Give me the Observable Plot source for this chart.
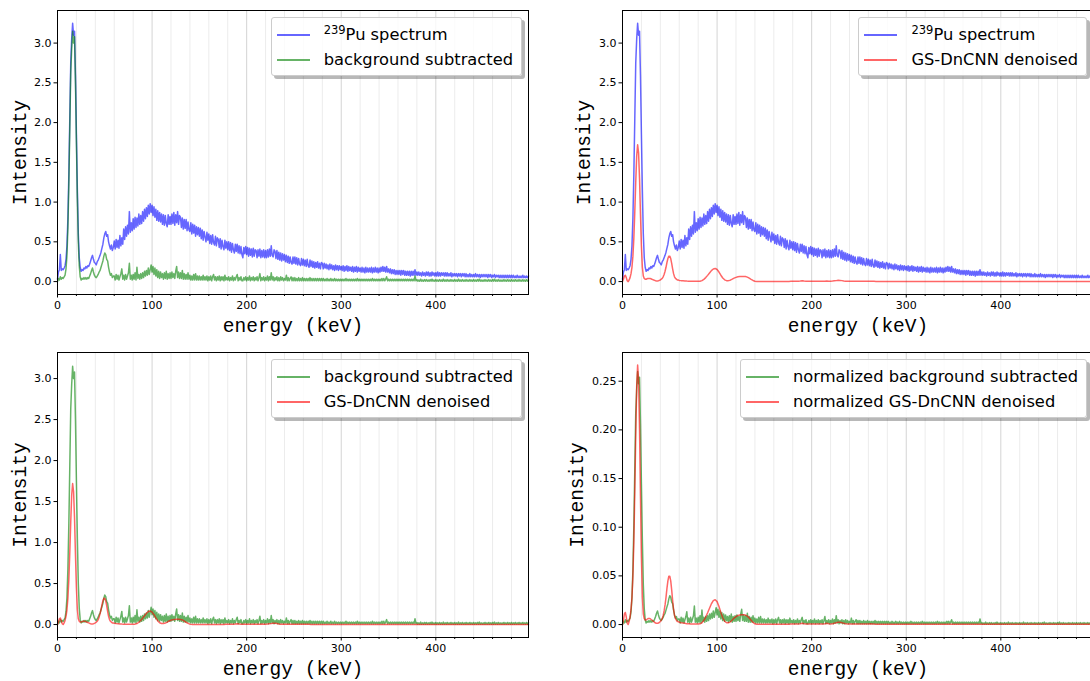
<!DOCTYPE html>
<html><head><meta charset="utf-8">
<script src="https://cdn.jsdelivr.net/npm/d3@7"></script>
<script src="https://cdn.jsdelivr.net/npm/@observablehq/plot@0.6"></script>
<style>
body{margin:0;background:#fff;}
#fig{position:relative;width:1090px;height:681px;overflow:hidden;background:#fff;}
.panel{position:absolute;}
.legend{position:absolute;background:rgba(255,255,255,0.8);border:1px solid #cccccc;border-radius:3px;box-shadow:3px 3px 0 rgba(0,0,0,0.28);padding:4px 8px 3px 5px;font-family:"DejaVu Sans",sans-serif;font-size:16.3px;color:#000;white-space:nowrap;}
.legend .row{display:flex;align-items:center;height:25px;}
.legend .swatch{width:33px;height:2px;margin-right:14px;}
.legend sup{font-size:11.5px;line-height:0;vertical-align:0.5em;}
</style>
</head><body>
<div id="fig"></div>
<script>
// ---------- data ----------
// energy channels (keV) for the measured spectra
const energy = [
0,1,2,3,4,5,6,7,8,9,10,11,12,13,14,15,16,17,18,19,
20,21,22,23,24,25,26,27,28,29,30,31,32,33,34,35,36,37,38,39,
40,41,42,43,44,45,46,47,48,49,50,51,52,53,54,55,56,57,58,59,
60,61,62,63,64,65,66,67,68,69,70,71,72,73,74,75,76,77,78,79,
80,81,82,83,84,85,86,87,88,89,90,91,92,93,94,95,96,97,98,99,
100,101,102,103,104,105,106,107,108,109,110,111,112,113,114,115,116,117,118,119,
120,121,122,123,124,125,126,127,128,129,130,131,132,133,134,135,136,137,138,139,
140,141,142,143,144,145,146,147,148,149,150,151,152,153,154,155,156,157,158,159,
160,161,162,163,164,165,166,167,168,169,170,171,172,173,174,175,176,177,178,179,
180,181,182,183,184,185,186,187,188,189,190,191,192,193,194,195,196,197,198,199,
200,201,202,203,204,205,206,207,208,209,210,211,212,213,214,215,216,217,218,219,
220,221,222,223,224,225,226,227,228,229,230,231,232,233,234,235,236,237,238,239,
240,241,242,243,244,245,246,247,248,249,250,251,252,253,254,255,256,257,258,259,
260,261,262,263,264,265,266,267,268,269,270,271,272,273,274,275,276,277,278,279,
280,281,282,283,284,285,286,287,288,289,290,291,292,293,294,295,296,297,298,299,
300,301,302,303,304,305,306,307,308,309,310,311,312,313,314,315,316,317,318,319,
320,321,322,323,324,325,326,327,328,329,330,331,332,333,334,335,336,337,338,339,
340,341,342,343,344,345,346,347,348,349,350,351,352,353,354,355,356,357,358,359,
360,361,362,363,364,365,366,367,368,369,370,371,372,373,374,375,376,377,378,379,
380,381,382,383,384,385,386,387,388,389,390,391,392,393,394,395,396,397,398,399,
400,401,402,403,404,405,406,407,408,409,410,411,412,413,414,415,416,417,418,419,
420,421,422,423,424,425,426,427,428,429,430,431,432,433,434,435,436,437,438,439,
440,441,442,443,444,445,446,447,448,449,450,451,452,453,454,455,456,457,458,459,
460,461,462,463,464,465,466,467,468,469,470,471,472,473,474,475,476,477,478,479,
480,481,482,483,484,485,486,487,488,489,490,491,492,493,494,495,496,497,498
];

// 239Pu spectrum
const pu = [
0.03,0.12,0.15,0.34,0.14,0.16,0.15,0.17,0.2,0.28,
0.45,0.8,1.35,2.05,2.75,3.05,3.25,3.1,3.15,2.6,
1.85,1.15,0.6,0.3,0.18,0.13,0.15,0.14,0.17,0.16,
0.19,0.17,0.2,0.19,0.22,0.26,0.3,0.33,0.28,0.24,
0.23,0.21,0.25,0.27,0.3,0.33,0.37,0.42,0.47,0.55,
0.6,0.63,0.57,0.59,0.5,0.45,0.41,0.46,0.39,0.43,
0.51,0.41,0.53,0.43,0.52,0.42,0.58,0.45,0.55,0.47,
0.66,0.53,0.69,0.57,0.71,0.6,0.88,0.62,0.74,0.64,
0.79,0.66,0.81,0.68,0.8,0.7,0.85,0.72,0.83,0.73,
0.88,0.76,0.91,0.79,0.93,0.82,0.96,0.85,0.98,0.87,
0.96,0.83,0.94,0.81,0.91,0.77,0.89,0.76,0.87,0.75,
0.85,0.72,0.84,0.71,0.83,0.73,0.69,0.84,0.72,0.82,
0.72,0.85,0.73,0.87,0.71,0.84,0.74,0.88,0.72,0.83,
0.81,0.68,0.8,0.66,0.78,0.67,0.78,0.64,0.75,0.65,
0.63,0.74,0.6,0.72,0.61,0.71,0.57,0.69,0.59,0.68,
0.57,0.67,0.54,0.65,0.52,0.63,0.56,0.5,0.62,0.52,
0.6,0.48,0.58,0.47,0.59,0.49,0.46,0.57,0.45,0.55,
0.53,0.43,0.54,0.41,0.52,0.44,0.4,0.52,0.42,0.5,
0.4,0.5,0.39,0.49,0.37,0.48,0.4,0.36,0.47,0.38,
0.47,0.36,0.45,0.35,0.44,0.34,0.3,0.43,0.35,0.44,
0.34,0.43,0.32,0.42,0.33,0.41,0.31,0.42,0.32,0.4,
0.39,0.3,0.4,0.32,0.41,0.3,0.39,0.31,0.4,0.3,
0.39,0.3,0.4,0.31,0.41,0.32,0.45,0.33,0.31,0.4,
0.38,0.29,0.39,0.28,0.37,0.27,0.36,0.26,0.35,0.27,
0.34,0.25,0.33,0.24,0.32,0.23,0.31,0.24,0.22,0.31,
0.23,0.31,0.22,0.3,0.21,0.29,0.22,0.2,0.29,0.21,
0.28,0.2,0.27,0.19,0.28,0.2,0.18,0.27,0.19,0.26,
0.18,0.25,0.17,0.24,0.18,0.25,0.17,0.23,0.16,0.24,
0.23,0.16,0.23,0.17,0.22,0.16,0.21,0.15,0.22,0.16,
0.21,0.15,0.2,0.14,0.21,0.15,0.2,0.14,0.2,0.15,
0.19,0.14,0.2,0.13,0.19,0.14,0.2,0.13,0.19,0.14,
0.18,0.13,0.19,0.12,0.18,0.13,0.19,0.12,0.18,0.13,
0.17,0.12,0.18,0.12,0.17,0.11,0.18,0.12,0.17,0.12,
0.17,0.12,0.18,0.11,0.17,0.12,0.18,0.12,0.17,0.11,
0.17,0.12,0.18,0.13,0.19,0.13,0.18,0.12,0.19,0.12,
0.16,0.11,0.16,0.1,0.15,0.1,0.15,0.09,0.14,0.09,
0.14,0.09,0.14,0.08,0.14,0.09,0.14,0.08,0.13,0.08,
0.13,0.08,0.13,0.07,0.13,0.08,0.13,0.08,0.15,0.08,
0.12,0.08,0.12,0.08,0.11,0.07,0.12,0.08,0.11,0.07,
0.12,0.08,0.12,0.07,0.11,0.07,0.12,0.08,0.11,0.07,
0.11,0.07,0.12,0.07,0.11,0.07,0.11,0.08,0.11,0.07,
0.11,0.07,0.11,0.07,0.1,0.07,0.11,0.06,0.1,0.07,
0.1,0.07,0.1,0.06,0.1,0.07,0.1,0.06,0.1,0.07,
0.1,0.06,0.1,0.06,0.09,0.06,0.1,0.06,0.09,0.06,
0.09,0.06,0.1,0.06,0.09,0.06,0.09,0.05,0.09,0.06,
0.09,0.06,0.09,0.06,0.09,0.05,0.09,0.06,0.09,0.05,
0.08,0.06,0.09,0.05,0.08,0.06,0.08,0.05,0.08,0.05,
0.08,0.05,0.08,0.05,0.08,0.05,0.08,0.05,0.08,0.05,
0.08,0.05,0.08,0.05,0.07,0.05,0.08,0.05,0.07,0.05,
0.07,0.05,0.08,0.05,0.07,0.05,0.07,0.05,0.07
];

// background subtracted
const bgsub = [
0.0,0.04,0.02,0.06,0.03,0.05,0.04,0.06,0.08,0.16,
0.33,0.68,1.23,1.93,2.63,2.93,3.15,3.0,3.08,2.5,
1.75,1.05,0.5,0.2,0.06,0.02,0.04,0.03,0.05,0.03,
0.05,0.03,0.05,0.04,0.07,0.1,0.14,0.17,0.12,0.08,
0.06,0.05,0.07,0.09,0.12,0.14,0.18,0.22,0.26,0.32,
0.36,0.34,0.28,0.26,0.18,0.12,0.08,0.1,0.05,0.07,
0.07,0.02,0.09,0.03,0.08,0.02,0.06,0.1,0.16,0.03,
0.08,0.02,0.09,0.03,0.07,0.11,0.23,0.03,0.08,0.02,
0.09,0.03,0.11,0.02,0.18,0.04,0.09,0.03,0.1,0.04,
0.11,0.05,0.13,0.07,0.14,0.08,0.17,0.09,0.15,0.21,
0.12,0.19,0.09,0.17,0.07,0.15,0.05,0.13,0.04,0.12,
0.05,0.1,0.03,0.11,0.04,0.13,0.03,0.1,0.04,0.11,
0.04,0.12,0.05,0.1,0.04,0.13,0.19,0.05,0.12,0.04,
0.11,0.04,0.14,0.03,0.1,0.03,0.09,0.03,0.11,0.03,
0.08,0.02,0.07,0.02,0.09,0.02,0.1,0.02,0.07,0.02,
0.07,0.02,0.06,0.02,0.08,0.02,0.06,0.02,0.07,0.01,
0.06,0.02,0.07,0.01,0.06,0.09,0.02,0.06,0.01,0.06,
0.02,0.07,0.01,0.06,0.02,0.06,0.01,0.08,0.02,0.05,
0.02,0.06,0.01,0.05,0.02,0.07,0.01,0.05,0.02,0.06,
0.09,0.01,0.05,0.02,0.06,0.01,0.01,0.05,0.02,0.06,
0.01,0.05,0.02,0.07,0.01,0.05,0.02,0.06,0.01,0.05,
0.02,0.06,0.01,0.05,0.1,0.01,0.05,0.02,0.06,0.01,
0.05,0.02,0.07,0.01,0.06,0.02,0.11,0.02,0.06,0.01,
0.05,0.02,0.06,0.01,0.05,0.01,0.06,0.02,0.05,0.01,
0.04,0.02,0.08,0.01,0.05,0.01,0.04,0.06,0.01,0.05,
0.01,0.05,0.01,0.04,0.01,0.05,0.01,0.04,0.01,0.05,
0.01,0.04,0.01,0.04,0.01,0.04,0.01,0.05,0.01,0.04,
0.01,0.04,0.01,0.04,0.01,0.04,0.01,0.04,0.01,0.04,
0.01,0.04,0.01,0.03,0.01,0.04,0.01,0.03,0.01,0.04,
0.01,0.03,0.01,0.04,0.01,0.03,0.01,0.03,0.01,0.03,
0.01,0.03,0.01,0.03,0.01,0.04,0.01,0.03,0.01,0.03,
0.01,0.03,0.01,0.03,0.01,0.03,0.01,0.04,0.01,0.03,
0.01,0.03,0.01,0.03,0.01,0.03,0.01,0.03,0.01,0.03,
0.01,0.03,0.01,0.04,0.01,0.03,0.01,0.03,0.01,0.03,
0.01,0.03,0.01,0.04,0.01,0.04,0.01,0.03,0.06,0.01,
0.03,0.01,0.03,0.01,0.03,0.01,0.03,0.01,0.03,0.01,
0.03,0.01,0.03,0.01,0.03,0.01,0.03,0.01,0.03,0.01,
0.03,0.01,0.03,0.01,0.03,0.01,0.03,0.01,0.07,0.01,
0.025,0.005,0.02,0.005,0.03,0.005,0.02,0.005,0.025,0.005,
0.025,0.005,0.02,0.005,0.025,0.005,0.03,0.005,0.02,0.005,
0.025,0.005,0.02,0.005,0.025,0.005,0.02,0.005,0.03,0.005,
0.02,0.005,0.025,0.005,0.02,0.005,0.025,0.005,0.02,0.005,
0.025,0.005,0.02,0.005,0.03,0.005,0.02,0.005,0.025,0.005,
0.02,0.005,0.025,0.005,0.02,0.005,0.025,0.005,0.02,0.005,
0.025,0.005,0.02,0.005,0.025,0.005,0.03,0.005,0.02,0.005,
0.02,0.005,0.025,0.005,0.02,0.005,0.025,0.005,0.02,0.005,
0.025,0.005,0.03,0.005,0.02,0.005,0.025,0.005,0.02,0.005,
0.02,0.005,0.025,0.005,0.02,0.005,0.025,0.005,0.02,0.005,
0.025,0.005,0.02,0.005,0.025,0.005,0.02,0.005,0.025,0.005,
0.02,0.005,0.025,0.005,0.02,0.005,0.025,0.005,0.02
];

// energy grid (keV) of the denoised output
const energyDn = [
0,1,2,3,4,5,6,7,8,9,10,11,12,13,14,15,16,17,18,19,
20,21,22,23,24,25,26,27,28,29,30,31,32,33,34,35,36,37,38,39,
40,41,42,43,44,45,46,47,48,49,50,51,52,53,54,55,56,57,58,59,
60,62,64,66,68,70,72,74,76,78,80,82,84,86,88,90,92,94,96,98,
100,102,104,106,108,110,112,114,116,118,120,122,124,126,128,130,132,134,136,138,
140,142,144,146,148,150,152,154,156,158,160,162,164,166,168,170,172,174,176,178,
180,182,184,186,188,190,192,194,196,198,200,202,204,206,208,210,212,214,216,218,
220,222,224,226,228,230,232,234,236,238,240,242,244,246,248,250,252,254,256,258,
260,262,264,266,268,270,272,274,276,278,280,282,284,286,288,290,292,294,296,298,
300,302,304,306,308,310,312,314,316,318,320,322,324,326,328,330,332,334,336,338,
340,342,344,346,348,350,352,354,356,358,360,362,364,366,368,370,372,374,376,378,
380,382,384,386,388,390,392,394,396,398,400,402,404,406,408,410,412,414,416,418,
420,422,424,426,428,430,432,434,436,438,440,442,444,446,448,450,452,454,456,458,
460,462,464,466,468,470,472,474,476,478,480,482,484,486,488,490,492,494,496,498
];

// GS-DnCNN denoised
const denoised = [
0.0,0.03,0.07,0.08,0.05,0.01,0.0,0.02,0.05,0.1,
0.18,0.32,0.55,0.88,1.25,1.58,1.72,1.62,1.3,0.85,
0.45,0.18,0.07,0.04,0.03,0.03,0.035,0.04,0.04,0.04,
0.035,0.03,0.025,0.02,0.015,0.01,0.008,0.008,0.01,0.015,
0.02,0.03,0.04,0.06,0.09,0.13,0.18,0.24,0.29,0.32,
0.32,0.29,0.23,0.16,0.1,0.06,0.04,0.03,0.02,0.02,
0.015,0.012,0.01,0.008,0.006,0.005,0.004,0.003,0.003,0.003,
0.003,0.005,0.012,0.028,0.05,0.078,0.108,0.138,0.158,0.165,
0.152,0.12,0.08,0.045,0.022,0.012,0.012,0.018,0.03,0.043,
0.053,0.06,0.063,0.065,0.065,0.063,0.056,0.043,0.028,0.014,
0.005,0.002,0.002,0.002,0.002,0.002,0.002,0.002,0.002,0.002,
0.002,0.002,0.002,0.002,0.002,0.002,0.002,0.002,0.002,0.003,
0.003,0.003,0.003,0.004,0.006,0.009,0.006,0.004,0.003,0.003,
0.003,0.003,0.003,0.003,0.003,0.003,0.003,0.005,0.008,0.005,
0.004,0.006,0.009,0.012,0.016,0.015,0.012,0.008,0.005,0.003,
0.003,0.003,0.003,0.003,0.003,0.003,0.003,0.003,0.003,0.003,
0.004,0.005,0.004,0.003,0.002,0.002,0.002,0.002,0.002,0.002,
0.002,0.002,0.002,0.002,0.002,0.002,0.002,0.002,0.002,0.002,
0.002,0.002,0.002,0.002,0.002,0.002,0.002,0.002,0.002,0.002,
0.002,0.002,0.002,0.002,0.002,0.002,0.002,0.002,0.002,0.002,
0.002,0.002,0.002,0.002,0.002,0.002,0.002,0.002,0.002,0.002,
0.002,0.002,0.002,0.002,0.002,0.002,0.002,0.002,0.002,0.002,
0.002,0.002,0.002,0.002,0.002,0.002,0.002,0.002,0.002,0.002,
0.002,0.002,0.002,0.002,0.002,0.002,0.002,0.002,0.002,0.002,
0.002,0.002,0.002,0.002,0.002,0.002,0.002,0.002,0.002,0.002,
0.002,0.002,0.002,0.002,0.002,0.002,0.002,0.002,0.002,0.002,
0.002,0.002,0.002,0.002,0.002,0.002,0.002,0.002,0.002,0.002,
0.002,0.002,0.002,0.002,0.002,0.002,0.002,0.002,0.002,0.002
];

const normBg = 0.0825;
const normDn = 0.155;

// tick values
const xTicks = [0, 100, 200, 300, 400];
const xMinor = [20,40,60,80,120,140,160,180,220,240,260,280,320,340,360,380,420,440,460,480];
const yTicks = [0, 0.5, 1.0, 1.5, 2.0, 2.5, 3.0];
const yTicksNorm = [0, 0.05, 0.10, 0.15, 0.20, 0.25];

// labels
const xLabel = "energy (keV)";
const yLabel = "Intensity";
const legendLabels = {
  pu: {sup: "239", text: "Pu spectrum"},
  bg: {text: "background subtracted"},
  dn: {text: "GS-DnCNN denoised"},
  bgN: {text: "normalized background subtracted"},
  dnN: {text: "normalized GS-DnCNN denoised"}
};

// ---------- drawing ----------
const BLUE = "#0000ff", GREEN = "#008000", RED = "#ff0000";
const bgsubNorm = bgsub.map(v => v * normBg);
const denoisedNorm = denoised.map(v => v * normDn);

const FIG_W = 1090;
const fig = document.getElementById("fig");

const S = {
  pu:  {vals: pu, xs: energy, color: BLUE, key: "pu"},
  bg:  {vals: bgsub, xs: energy, color: GREEN, key: "bg"},
  dn:  {vals: denoised, xs: energyDn, color: RED, key: "dn"},
  bgN: {vals: bgsubNorm, xs: energy, color: GREEN, key: "bgN"},
  dnN: {vals: denoisedNorm, xs: energyDn, color: RED, key: "dnN"}
};

const panels = [
  {left:0, top:0, w:545, h:340, ml:57, mr:17, mt:10, mb:46, yDomain:[-0.1625, 3.41], ticks:yTicks, fmt:".1f", yDx:-32,
   series:[S.pu, S.bg]},
  {left:545, top:0, w:548, h:340, ml:77, mr:0, mt:10, mb:46, yDomain:[-0.1625, 3.41], ticks:yTicks, fmt:".1f", yDx:-33,
   series:[S.pu, S.dn]},
  {left:0, top:340, w:545, h:341, ml:57, mr:17, mt:12, mb:44, yDomain:[-0.158, 3.318], ticks:yTicks, fmt:".1f", yDx:-32,
   series:[S.bg, S.dn]},
  {left:545, top:340, w:548, h:341, ml:77, mr:0, mt:12, mb:44, yDomain:[-0.0133, 0.2795], ticks:yTicksNorm, fmt:".2f", yDx:-40,
   series:[S.bgN, S.dnN]}
];

const monoFont = "'Liberation Mono','Courier New','DejaVu Sans Mono',monospace";

for (const p of panels) {
  const svg = Plot.plot({
    width: p.w,
    height: p.h,
    marginLeft: p.ml, marginRight: p.mr, marginTop: p.mt, marginBottom: p.mb,
    style: {background: "transparent", fontFamily: "'DejaVu Sans',sans-serif", fontSize: "11px", color: "#000", overflow: "visible"},
    x: {domain: [0, 498]},
    y: {domain: p.yDomain},
    marks: [
      Plot.ruleX(xMinor, {stroke: "#ececec", strokeWidth: 1}),
      Plot.ruleX(xTicks.filter(d => d > 0), {stroke: "#d4d4d4", strokeWidth: 1}),
      ...p.series.map(s =>
        Plot.lineY(s.vals, {x: s.xs, stroke: s.color, strokeOpacity: 0.6, strokeWidth: 1.5})
      ),
      Plot.frame({stroke: "#000", strokeWidth: 1}),
      Plot.axisX({ticks: xTicks, tickSize: 3.5, tickPadding: 3, label: null, tickFormat: d => String(d)}),
      Plot.axisX({ticks: xMinor, tickSize: 2, label: null, tickFormat: () => ""}),
      Plot.axisY({ticks: p.ticks, tickSize: 3.5, tickPadding: 2.5, label: null, tickFormat: d3.format(p.fmt)}),
      Plot.text([xLabel], {frameAnchor: "bottom", dy: 37, lineAnchor: "bottom", textAnchor: "middle",
        fontFamily: monoFont, fontSize: 19.5, fill: "#000"}),
      Plot.text([yLabel], {frameAnchor: "left", dx: p.yDx, rotate: -90, lineAnchor: "bottom", textAnchor: "middle",
        fontFamily: monoFont, fontSize: 19.5, fill: "#000"})
    ]
  });
  const holder = document.createElement("div");
  holder.className = "panel";
  holder.style.left = p.left + "px";
  holder.style.top = p.top + "px";
  holder.style.width = p.w + "px";
  holder.style.height = p.h + "px";
  holder.appendChild(svg);
  fig.appendChild(holder);

  // legend
  const lg = document.createElement("div");
  lg.className = "legend";
  const rightEdge = p.left + p.w - p.mr - 6;
  lg.style.right = (FIG_W - rightEdge) + "px";
  lg.style.top = (p.top + p.mt + 7) + "px";
  for (const s of p.series) {
    const lab = legendLabels[s.key];
    const row = document.createElement("div");
    row.className = "row";
    const sw = document.createElement("span");
    sw.className = "swatch";
    sw.style.background = d3.color(s.color).copy({opacity: 0.6}).formatRgb();
    row.appendChild(sw);
    const tx = document.createElement("span");
    if (lab.sup) {
      const sp = document.createElement("sup");
      sp.textContent = lab.sup;
      tx.appendChild(sp);
    }
    tx.appendChild(document.createTextNode(lab.text));
    row.appendChild(tx);
    lg.appendChild(row);
  }
  fig.appendChild(lg);
}
</script>
</body></html>
